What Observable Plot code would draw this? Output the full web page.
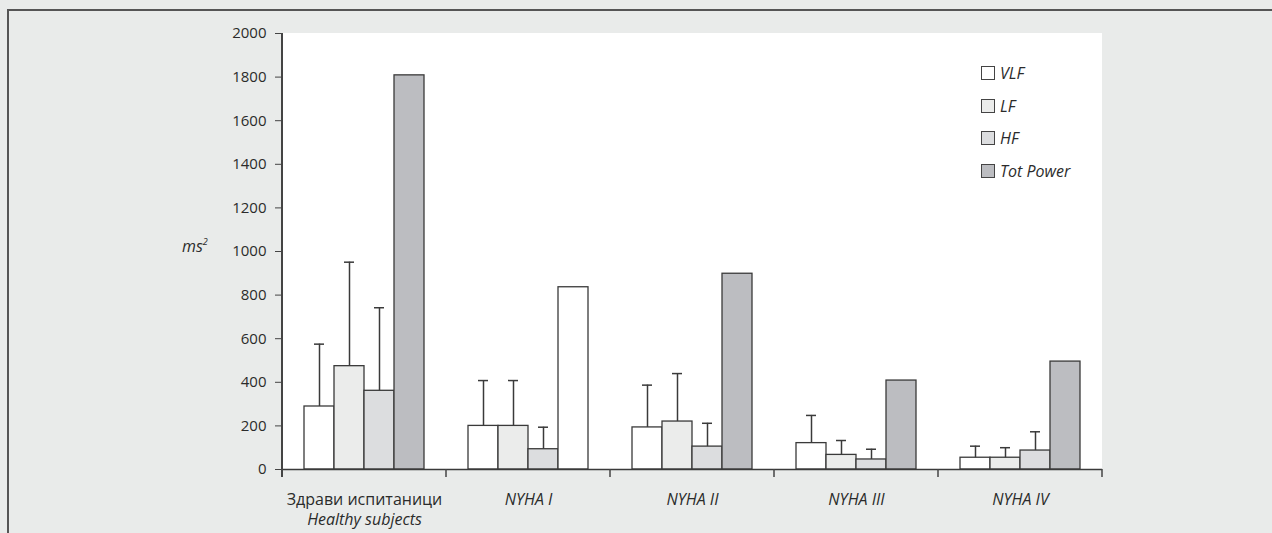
<!DOCTYPE html>
<html>
<head>
<meta charset="utf-8">
<script src="https://cdn.jsdelivr.net/npm/d3@7"></script>
<script src="https://cdn.jsdelivr.net/npm/@observablehq/plot@0.6"></script>
<style>
  html, body { margin: 0; padding: 0; background: #e9ebea; }
  body { width: 1272px; height: 533px; position: relative; overflow: hidden;
         font-family: "Open Sans", sans-serif; color: #2b2b2b; }
  #box { position: absolute; left: 7px; top: 9px; width: 1300px; height: 560px;
         border-top: 2px solid #555; border-left: 2px solid #555; }
  #chart { position: absolute; left: 0; top: 0; }
  #ylabel { position: absolute; left: 182px; top: 235px; font-style: italic; font-size: 16px; }
  #ylabel sup { font-size: 9px; vertical-align: 7px; }
  #legend { position: absolute; left: 981px; top: 57px; font-style: italic; font-size: 16px; }
  #legend .row { display: flex; align-items: center; height: 32.5px; }
  #legend .sw { width: 12px; height: 12px; border: 1.3px solid #444; margin-right: 5px; }
</style>
</head>
<body>
<div id="box"></div>
<div id="chart"></div>
<div id="ylabel">ms<sup>2</sup></div>
<div id="legend"></div>
<script>
// Patient groups (bottom axis) and spectral components
const groups = ["Здрави испитаници\nHealthy subjects", "NYHA I", "NYHA II", "NYHA III", "NYHA IV"];
const series = ["VLF", "LF", "HF", "Tot Power"];

// Mean power (ms²) per group
const vlf      = [289, 200, 193, 121, 54];
const lf       = [474, 200, 220, 67, 54];
const hf       = [361, 93, 105, 46, 87];
const totPower = [1808, 836, 898, 408, 495];

// Standard deviations (upper whiskers only)
const vlfSD = [286, 208, 194, 127, 53];
const lfSD  = [477, 208, 220, 66, 46];
const hfSD  = [381, 101, 107, 47, 86];

const yTicks = [0, 200, 400, 600, 800, 1000, 1200, 1400, 1600, 1800, 2000];

const fills = ["#ffffff", "#ebeceb", "#dcdddf", "#bcbdc1"];

const means = [vlf, lf, hf, totPower];
const sds = [vlfSD, lfSD, hfSD, null];
const rows = [];
groups.forEach((g, i) => {
  series.forEach((s, j) => {
    rows.push({group: g, series: s, value: means[j][i], sd: sds[j] ? sds[j][i] : null});
  });
});
const withSD = rows.filter(d => d.sd != null);

const color = d3.scaleOrdinal(series, fills);
// the NYHA I total-power bar is left unshaded
const barFill = d => (d.group === "NYHA I" && d.series === "Tot Power") ? "#ffffff" : color(d.series);

const ink = "#3a3a3a";

const plot = Plot.plot({
  width: 1272,
  height: 533,
  marginLeft: 281,
  marginRight: 169,
  marginTop: 33,
  marginBottom: 64,
  style: {background: "transparent", fontFamily: "'Open Sans', sans-serif", fontSize: "14px", color: "#2b2b2b"},
  fx: {domain: groups, padding: 0, label: null},
  x: {domain: series, paddingInner: 0, paddingOuter: 0.73, axis: null},
  y: {domain: [0, 2000], label: null},
  marks: [
    Plot.barY(rows, {fx: "group", x: "series", y: "value", fill: barFill, stroke: ink, strokeWidth: 1.3}),
    Plot.ruleX(withSD, {fx: "group", x: "series", y1: "value", y2: d => d.value + d.sd, stroke: ink, strokeWidth: 1.5}),
    Plot.tickY(withSD, {fx: "group", x: "series", y: d => d.value + d.sd, stroke: ink, strokeWidth: 1.5, insetLeft: 10, insetRight: 10}),
    Plot.ruleY([0], {stroke: ink, strokeWidth: 1.5}),
    Plot.axisY({ticks: yTicks, tickFormat: d => String(d), tickSize: 7, tickPadding: 9, label: null, fontSize: 15, stroke: "#444"}),
    Plot.axisFx({anchor: "bottom", tickSize: 0, tickPadding: 21, label: null, fontSize: 16, lineHeight: 1.25, lineAnchor: "top"})
  ]
});

document.getElementById("chart").appendChild(plot);

// White plotting panel, left axis line and category separator ticks
const svg = d3.select(plot);
const ys = plot.scale("y");
const fxs = plot.scale("fx");
const yOf = v => ys.apply ? ys.apply(v) : d3.scaleLinear(ys.domain, ys.range)(v);
const fxBand = d3.scaleBand(fxs.domain, fxs.range)
  .paddingInner(fxs.paddingInner ?? 0).paddingOuter(fxs.paddingOuter ?? 0).align(fxs.align ?? 0.5);
const fxOf = g => fxs.apply ? fxs.apply(g) : fxBand(g);
const bw = fxs.bandwidth ?? fxBand.bandwidth();
const y0 = yOf(0), yTop = yOf(2000);
const x0 = fxOf(groups[0]);
const edges = groups.map(g => fxOf(g)).concat([fxOf(groups[groups.length - 1]) + bw]);
const x1 = edges[edges.length - 1];

svg.insert("rect", ":first-child")
  .attr("x", x0).attr("y", yTop).attr("width", x1 - x0).attr("height", y0 - yTop)
  .attr("fill", "white");

const deco = svg.append("g");
deco.append("line")
  .attr("x1", x0).attr("x2", x0).attr("y1", yTop).attr("y2", y0 + 8)
  .attr("stroke", "#444").attr("stroke-width", 2);
deco.selectAll(".sep").data(edges.slice(1)).join("line")
  .attr("x1", d => d).attr("x2", d => d).attr("y1", y0).attr("y2", y0 + 8)
  .attr("stroke", "#444").attr("stroke-width", 1.5);

// Group labels: italic, except the Cyrillic first line
svg.selectAll('g[aria-label="fx-axis tick label"] text').each(function (d, i) {
  const t = d3.select(this);
  t.attr("font-style", "italic");
  if (i === 0) {
    t.select("tspan").attr("font-style", "normal");
  }
});

// Legend
const legend = d3.select("#legend");
series.forEach((s, j) => {
  const row = legend.append("div").attr("class", "row");
  row.append("div").attr("class", "sw").style("background", fills[j]);
  row.append("span").text(s);
});
</script>
</body>
</html>
